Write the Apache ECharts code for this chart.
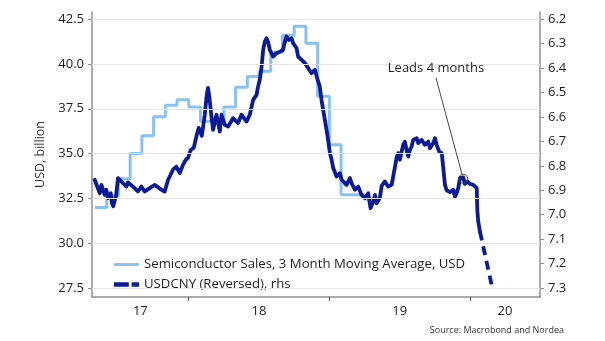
<!DOCTYPE html>
<html>
<head>
<meta charset="utf-8">
<script src="https://cdn.jsdelivr.net/npm/echarts@6/dist/echarts.min.js"></script>
<style>
  html, body { margin: 0; padding: 0; background: #ffffff; }
  #chart { width: 605px; height: 341px; }
</style>
</head>
<body>
<div id="chart"></div>
<script>
// Semiconductor sales, 3 month moving average (USD bn), one value per month
const semiMonths = ['2017-05','2017-06','2017-07','2017-08','2017-09','2017-10','2017-11','2017-12',
                    '2018-01','2018-02','2018-03','2018-04','2018-05','2018-06','2018-07','2018-08',
                    '2018-09','2018-10','2018-11','2018-12','2019-01','2019-02','2019-03','2019-04'];
const semiSales  = [32.0, 32.65, 33.6, 35.0, 36.0, 37.05, 37.7, 38.0,
                    37.6, 36.8, 36.8, 37.6, 38.7, 39.3, 39.6, 40.65,
                    41.6, 42.1, 41.15, 38.2, 35.5, 32.7, 32.7, 32.45];

// USDCNY (shifted 4 months ahead), decimal year / rate
const cnyTime = [2017.331,2017.367,2017.379,2017.402,2017.414,2017.426,2017.445,2017.454,2017.463,2017.473,
  2017.484,2017.497,2017.509,2017.532,2017.557,2017.568,2017.604,2017.639,2017.663,2017.687,
  2017.722,2017.758,2017.806,2017.829,2017.853,2017.888,2017.912,2017.936,2017.959,2017.979,
  2017.995,2018.014,2018.036,2018.057,2018.071,2018.093,2018.114,2018.128,2018.137,2018.149,
  2018.160,2018.173,2018.197,2018.221,2018.233,2018.256,2018.280,2018.315,2018.351,2018.375,
  2018.411,2018.434,2018.458,2018.482,2018.493,2018.505,2018.517,2018.529,2018.541,2018.553,
  2018.564,2018.577,2018.600,2018.624,2018.648,2018.671,2018.680,2018.695,2018.712,2018.731,
  2018.742,2018.767,2018.778,2018.802,2018.826,2018.849,2018.873,2018.897,2018.913,2018.932,
  2018.944,2018.956,2018.968,2018.980,2018.991,2019.004,2019.016,2019.027,2019.051,2019.075,
  2019.087,2019.122,2019.146,2019.158,2019.181,2019.205,2019.229,2019.253,2019.276,2019.293,
  2019.312,2019.324,2019.336,2019.359,2019.372,2019.395,2019.418,2019.443,2019.454,2019.466,
  2019.478,2019.490,2019.502,2019.514,2019.525,2019.537,2019.549,2019.561,2019.573,2019.585,
  2019.596,2019.621,2019.632,2019.656,2019.680,2019.703,2019.715,2019.739,2019.751,2019.763,
  2019.781,2019.799,2019.810,2019.822,2019.834,2019.858,2019.881,2019.893,2019.905,2019.917,
  2019.929,2019.941,2019.952,2019.964,2019.981,2020.000,2020.023,2020.048,2020.052,2020.059,
  2020.071];
const cnyRate = [6.857,6.912,6.878,6.919,6.898,6.932,6.912,6.953,6.966,6.943,
  6.919,6.850,6.857,6.871,6.885,6.868,6.885,6.905,6.885,6.905,
  6.891,6.878,6.898,6.905,6.857,6.816,6.803,6.830,6.796,6.775,
  6.767,6.735,6.726,6.673,6.645,6.677,6.591,6.510,6.481,6.530,
  6.591,6.653,6.591,6.660,6.591,6.632,6.639,6.605,6.625,6.591,
  6.619,6.591,6.530,6.510,6.476,6.448,6.400,6.326,6.292,6.278,
  6.293,6.326,6.353,6.339,6.333,6.326,6.301,6.271,6.285,6.278,
  6.298,6.319,6.353,6.366,6.380,6.400,6.421,6.407,6.441,6.476,
  6.530,6.522,6.612,6.653,6.694,6.748,6.775,6.808,6.844,6.830,
  6.857,6.878,6.850,6.871,6.898,6.885,6.919,6.932,6.912,6.973,
  6.946,6.919,6.953,6.932,6.882,6.864,6.885,6.878,6.844,6.837,
  6.767,6.748,6.775,6.742,6.714,6.701,6.735,6.762,6.735,6.721,
  6.694,6.687,6.707,6.694,6.714,6.701,6.728,6.707,6.687,6.714,
  6.742,6.748,6.808,6.878,6.900,6.908,6.898,6.926,6.912,6.890,
  6.850,6.857,6.847,6.874,6.864,6.874,6.878,6.891,6.980,7.029,
  7.069];
// Projected continuation (dashed)
const cnyProjTime = [2020.071, 2020.160];
const cnyProjRate = [7.069, 7.303];

// Axes
const leftTicks  = [27.5, 30.0, 32.5, 35.0, 37.5, 40.0, 42.5];
const rightTicks = [6.2, 6.3, 6.4, 6.5, 6.6, 6.7, 6.8, 6.9, 7.0, 7.1, 7.2, 7.3];
const yearLabels = ['17', '18', '19', '20'];
const xStart = 2017.312, xEnd = 2020.498;
const leftMin = 27.0, leftMax = 42.9;

// Annotation
const noteText = 'Leads 4 months';
const noteAt = [2019.758, 6.399];
const noteLineFrom = [2019.758, 6.44];
const noteLineTo = [2019.944, 6.8356];
const noteCircle = [2019.952, 6.853];

const semiName = 'Semiconductor Sales, 3 Month Moving Average, USD';
const cnyName = 'USDCNY (Reversed), rhs';

const FONT = '"Open Sans", "DejaVu Sans", sans-serif';
const LIGHT = '#88c2f5';
const DARK = '#0b1b98';
const AXIS = '#8f8f8f';
const GRID = '#e3e3e3';

function monthToYear(m) {
  const [y, mo] = m.split('-').map(Number);
  return y + (mo - 1) / 12;
}

// Step series: each monthly value spans its month
const semiData = semiMonths.map((m, i) => [monthToYear(m), semiSales[i]]);
semiData.push([monthToYear(semiMonths[semiMonths.length - 1]) + 1 / 12, semiSales[semiSales.length - 1]]);

const cnyData = cnyTime.map((t, i) => [t, cnyRate[i]]);
const cnyProj = cnyProjTime.map((t, i) => [t, cnyProjRate[i]]);

// Right axis is tied to the left one: 42.5 <-> 6.2 and 27.5 <-> 7.3
const k = (rightTicks[rightTicks.length - 1] - rightTicks[0]) / (leftTicks[leftTicks.length - 1] - leftTicks[0]);
const toRight = v => rightTicks[0] + (leftTicks[leftTicks.length - 1] - v) * k;
const rightMin = toRight(leftMax), rightMax = toRight(leftMin);

// Year label positions: centre of the visible part of each year
const yearPos = yearLabels.map(l => {
  const y0 = 2000 + Number(l);
  return (Math.max(y0, xStart) + Math.min(y0 + 1, xEnd)) / 2;
});
const yearTicks = yearLabels.slice(1).map(l => 2000 + Number(l));

const chart = echarts.init(document.getElementById('chart'), null, { renderer: 'canvas' });
chart.setOption({
  animation: false,
  backgroundColor: '#ffffff',
  textStyle: { fontFamily: FONT },
  grid: { left: 92, right: 65, top: 12, bottom: 44, containLabel: false },
  legend: [
    {
      data: [{ name: semiName, icon: 'rect' }],
      orient: 'vertical', left: 114, top: 258, padding: 0,
      itemWidth: 25, itemHeight: 3,
      textStyle: { fontSize: 13.2, color: '#1e1e1e', fontFamily: FONT },
      selectedMode: false
    },
    {
      data: [{ name: cnyName, icon: 'path://M0,0H16V5H0ZM19,0H27V5H19Z' }],
      orient: 'vertical', left: 114, top: 278, padding: 0,
      itemWidth: 25, itemHeight: 5,
      textStyle: { fontSize: 13.2, color: '#1e1e1e', fontFamily: FONT },
      selectedMode: false
    }
  ],
  xAxis: {
    type: 'value', min: xStart, max: xEnd,
    axisLine: { show: true, lineStyle: { color: AXIS, width: 1.5 } },
    axisTick: { show: true, length: 4, customValues: yearTicks, lineStyle: { color: '#555' } },
    axisLabel: {
      customValues: yearPos, margin: 8, fontSize: 13, color: '#1e1e1e',
      formatter: v => {
        let best = 0;
        yearPos.forEach((p, i) => { if (Math.abs(p - v) < Math.abs(yearPos[best] - v)) best = i; });
        return yearLabels[best];
      }
    },
    splitLine: { show: false }
  },
  yAxis: [
    {
      type: 'value', min: leftMin, max: leftMax, position: 'left',
      name: 'USD, billion', nameLocation: 'middle', nameGap: 33,
      nameTextStyle: { fontSize: 12.5, color: '#333' },
      axisLine: { show: true, lineStyle: { color: AXIS, width: 1.5 } },
      axisTick: { show: true, length: 4, customValues: leftTicks, lineStyle: { color: AXIS } },
      axisLabel: { customValues: leftTicks, margin: 8, fontSize: 13, color: '#1e1e1e', formatter: v => v.toFixed(1) },
      splitLine: { show: false }
    },
    {
      type: 'value', min: rightMin, max: rightMax, inverse: true, position: 'right',
      axisLine: { show: true, lineStyle: { color: AXIS, width: 1.5 } },
      axisTick: { show: true, length: 4, customValues: rightTicks, lineStyle: { color: AXIS } },
      axisLabel: { customValues: rightTicks, margin: 8, fontSize: 13, color: '#1e1e1e', formatter: v => v.toFixed(1) },
      splitLine: { show: false }
    }
  ],
  series: [
    {
      // horizontal gridlines at the left-axis ticks
      name: 'grid', type: 'line', data: [], yAxisIndex: 0, z: 1, silent: true,
      markLine: {
        silent: true, symbol: 'none', label: { show: false },
        lineStyle: { color: GRID, width: 1, type: 'solid' },
        data: leftTicks.map(v => ({ yAxis: v }))
      }
    },
    {
      name: semiName, type: 'line', data: semiData, step: 'end',
      yAxisIndex: 0, showSymbol: false, z: 3,
      itemStyle: { color: LIGHT },
      lineStyle: { color: LIGHT, width: 3 }
    },
    {
      name: cnyName, type: 'line', data: cnyData,
      yAxisIndex: 1, showSymbol: false, z: 4,
      itemStyle: { color: DARK },
      lineStyle: { color: DARK, width: 3.8, join: 'round', cap: 'round' },
      markLine: {
        silent: true, symbol: 'none', label: { show: false },
        lineStyle: { color: '#444', width: 1, type: 'solid' },
        data: [[{ coord: noteLineFrom }, { coord: noteLineTo }]]
      },
      markPoint: {
        silent: true,
        data: [
          {
            coord: noteCircle, symbol: 'circle', symbolSize: 9,
            itemStyle: { color: 'rgba(255,255,255,0)', borderColor: '#444', borderWidth: 1 },
            label: { show: false }
          },
          {
            coord: noteAt, symbol: 'circle', symbolSize: 0,
            label: { show: true, position: 'inside', formatter: noteText, fontSize: 13, color: '#1e1e1e', fontFamily: FONT }
          }
        ]
      }
    },
    {
      name: 'projection', type: 'line', data: cnyProj,
      yAxisIndex: 1, showSymbol: false, z: 4,
      lineStyle: { color: DARK, width: 3.8, type: [9, 6] }
    }
  ],
  graphic: [
    {
      type: 'text', right: 41, top: 326,
      style: { text: 'Source: Macrobond and Nordea', fontSize: 9, fill: '#333', fontFamily: FONT }
    }
  ]
});
</script>
</body>
</html>
